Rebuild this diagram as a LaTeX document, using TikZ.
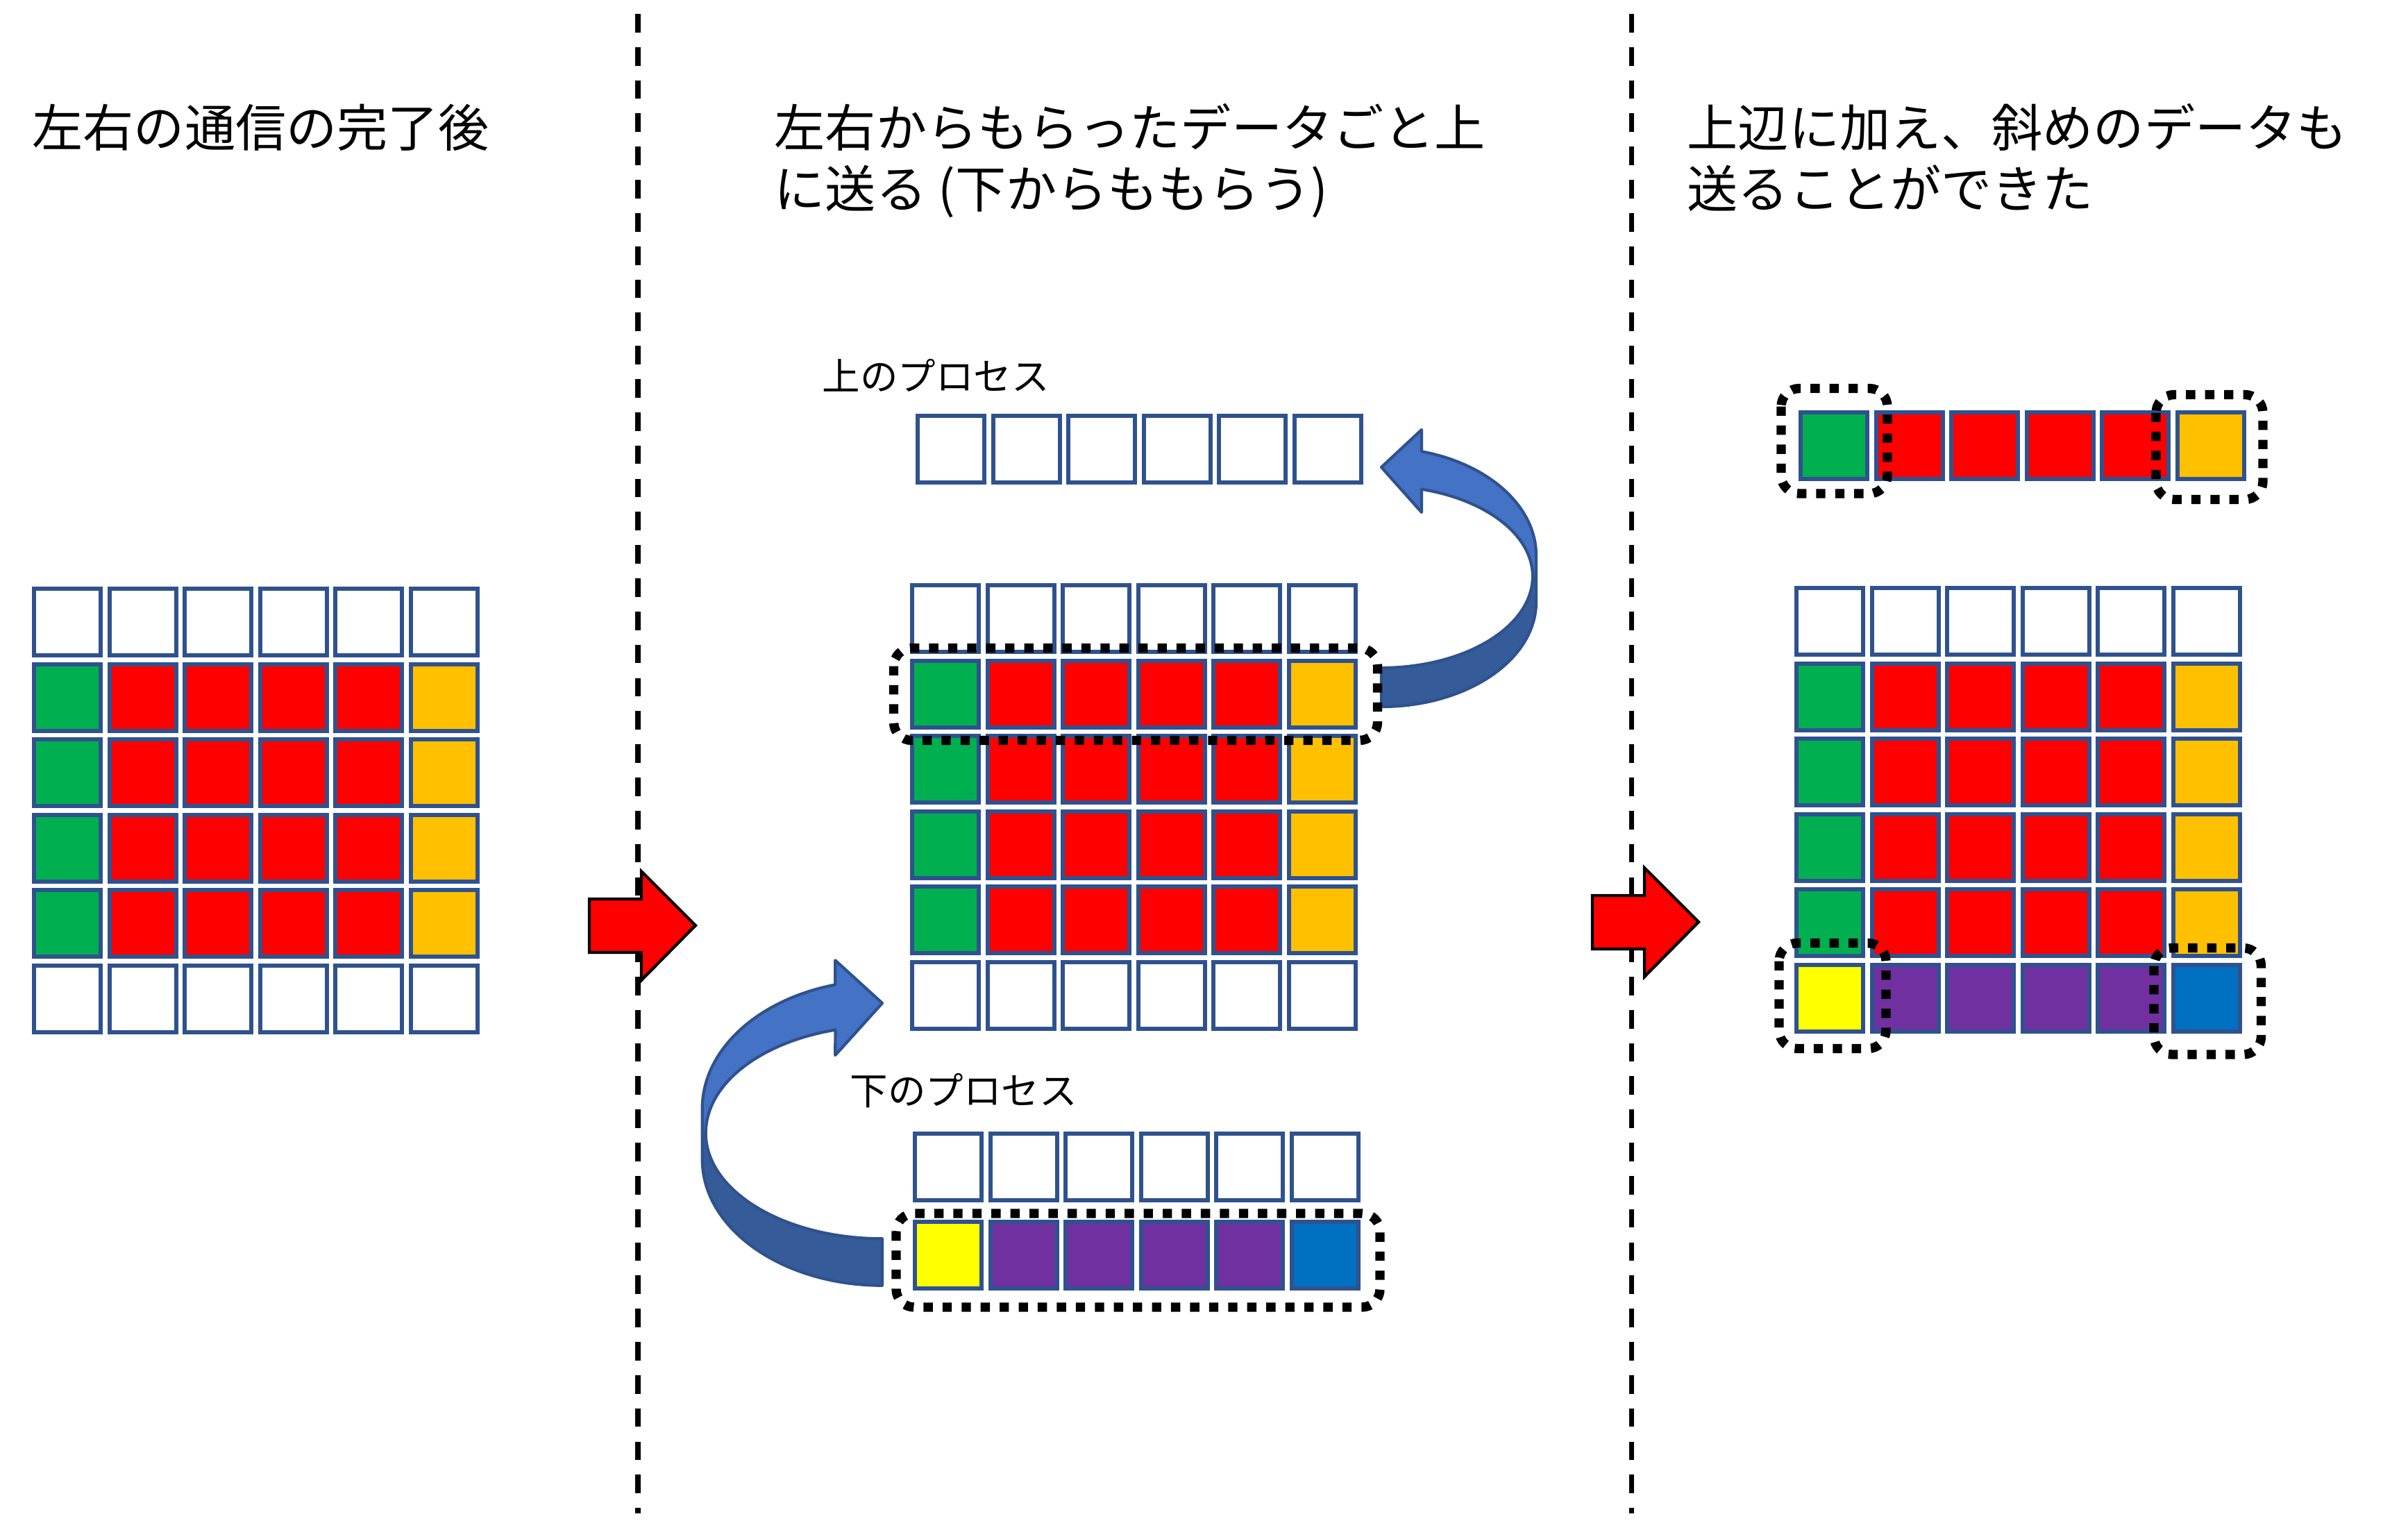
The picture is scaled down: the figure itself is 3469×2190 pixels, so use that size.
\documentclass[tikz,border=0pt]{standalone}
\usepackage{fontspec}
\setmainfont{Noto Sans CJK JP}
\definecolor{cellblue}{HTML}{2F528F}
\definecolor{cgreen}{HTML}{00B050}
\definecolor{cred}{HTML}{FF0000}
\definecolor{corange}{HTML}{FFC000}
\definecolor{cyellow}{HTML}{FFFF00}
\definecolor{cpurple}{HTML}{7030A0}
\definecolor{cblue}{HTML}{0070C0}
\definecolor{arrowlight}{HTML}{4472C4}
\definecolor{arrowdark}{HTML}{355B99}
\definecolor{arrowedge}{HTML}{2F528F}
\tikzset{
  cell/.style={draw=cellblue, line width=1.7pt, minimum size=0.96cm, inner sep=0pt, outer sep=0pt},
  dotbox/.style={draw=black, line width=3.8pt, dash pattern=on 3.8pt off 4pt, rounded corners=0.26cm},
  divider/.style={draw=black, line width=2pt, dash pattern=on 7.6pt off 6pt},
  redarrow/.style={fill=cred, draw=black, line width=1.2pt, line join=miter},
  bandlight/.style={fill=arrowlight, draw=arrowedge, line width=1.2pt, line join=round},
  banddark/.style={fill=arrowdark, draw=arrowedge, line width=1.2pt, line join=round},
  headtext/.style={anchor=base west, inner sep=0pt, font=\fontsize{20.8pt}{25pt}\selectfont},
  proclabel/.style={anchor=base west, inner sep=0pt, font=\fontsize{15.5pt}{18pt}\selectfont},
}
\def\rowW{white,white,white,white,white,white}
\def\rowG{cgreen,cred,cred,cred,cred,corange}
\def\rowP{cyellow,cpurple,cpurple,cpurple,cpurple,cblue}
\newcommand\cellrow[5]{%
  \foreach \cc [count=\ci from 0] in #5 {%
    \node[cell, fill=\cc] (#1-#2-\ci) at ({#3+51+\ci*108.6},{#4+51}) {};
  }}
\begin{document}
\begin{tikzpicture}[x=0.01cm, y=-0.01cm]
\useasboundingbox (0,0) rectangle (3469,2190);
\fill[white] (0,0) rectangle (3469,2190);

% dividers
\coordinate (d1t) at (919,20);  \coordinate (d1b) at (919,2180);
\coordinate (d2t) at (2350,20); \coordinate (d2b) at (2350,2180);
\draw[divider] (d1t) -- (d1b);
\draw[divider] (d2t) -- (d2b);

% red block arrows
\draw[redarrow] (849,1295) -- (924,1295) -- (924,1255) -- (1002,1333) -- (924,1412) -- (924,1372) -- (849,1372) -- cycle;
\begin{scope}[shift={(1445,-5)}]
\draw[redarrow] (849,1295) -- (924,1295) -- (924,1255) -- (1002,1333) -- (924,1412) -- (924,1372) -- (849,1372) -- cycle;
\end{scope}

% upper curved arrow (to upper process)
\draw[banddark] (1990,1018) arc[start angle=90, end angle=0, x radius=223, y radius=151]
  -- (2213,830) -- (2208,830)
  arc[start angle=0, end angle=90, x radius=218, y radius=132] -- cycle;
\draw[bandlight] (2208,830) -- (2213,830) -- (2213,800)
  arc[start angle=0, end angle=-74.9, x radius=223, y radius=155]
  -- (2048,619) -- (1990,673) -- (2048,738) -- (2048,704.7)
  arc[start angle=-74.57, end angle=0, x radius=218, y radius=130] -- cycle;

% lower curved arrow (from lower process)
\draw[banddark] (1271,1851.7) arc[start angle=90, end angle=180, x radius=259.3, y radius=181.7]
  -- (1011.7,1632) -- (1016.7,1632)
  arc[start angle=180, end angle=90, x radius=254.3, y radius=152.3] -- cycle;
\draw[bandlight] (1016.7,1632) -- (1011.7,1632) -- (1011.7,1597)
  arc[start angle=180, end angle=254.87, x radius=259.3, y radius=185]
  -- (1203.3,1383.3) -- (1271,1445) -- (1203.3,1520) -- (1203.4,1483.5)
  arc[start angle=254.57, end angle=180, x radius=254.3, y radius=154] -- cycle;

% left grid
\cellrow{L}{0}{46}{845}{\rowW}
\cellrow{L}{1}{46}{953.6}{\rowG}
\cellrow{L}{2}{46}{1062.2}{\rowG}
\cellrow{L}{3}{46}{1170.8}{\rowG}
\cellrow{L}{4}{46}{1279.4}{\rowG}
\cellrow{L}{5}{46}{1388}{\rowW}

% middle panel
\cellrow{MU}{0}{1319}{596}{\rowW}
\cellrow{M}{0}{1311}{840}{\rowW}
\cellrow{M}{1}{1311}{948.6}{\rowG}
\cellrow{M}{2}{1311}{1057.2}{\rowG}
\cellrow{M}{3}{1311}{1165.8}{\rowG}
\cellrow{M}{4}{1311}{1274.4}{\rowG}
\cellrow{M}{5}{1311}{1383}{\rowW}
\cellrow{MB}{0}{1315}{1630}{\rowW}
\cellrow{MB}{1}{1315}{1757}{\rowP}

% right panel
\cellrow{RU}{0}{2591}{591}{\rowG}
\cellrow{R}{0}{2585}{844}{\rowW}
\cellrow{R}{1}{2585}{952.6}{\rowG}
\cellrow{R}{2}{2585}{1061.2}{\rowG}
\cellrow{R}{3}{2585}{1169.8}{\rowG}
\cellrow{R}{4}{2585}{1278.4}{\rowG}
\cellrow{R}{5}{2585}{1387}{\rowP}

% dotted highlight boxes
\draw[dotbox] (1287.5,933.5) rectangle (1984.5,1066.5);
\draw[dotbox] (1291,1748) rectangle (1988,1883);
\draw[dotbox] (2566,559.5) rectangle (2719,711);
\draw[dotbox] (3106,568.5) rectangle (3260,719.5);
\draw[dotbox] (2563,1358.5) rectangle (2717,1510.5);
\draw[dotbox] (3103,1365.5) rectangle (3257.5,1519);

% texts
\node[headtext] (t1) at (46,211) {左右の通信の完了後};
\node[headtext] (t2a) at (1115,211) {左右からもらったデータごと上};
\node[headtext] (t2b) at (1115,299) {に送る (下からももらう)};
\node[headtext] (t3a) at (2430,211) {上辺に加え、斜めのデータも};
\node[headtext] (t3b) at (2430,299) {送ることができた};
\node[proclabel] (up) at (1184,562) {上のプロセス};
\node[proclabel] (down) at (1224,1591) {下のプロセス};
\end{tikzpicture}
\end{document}
